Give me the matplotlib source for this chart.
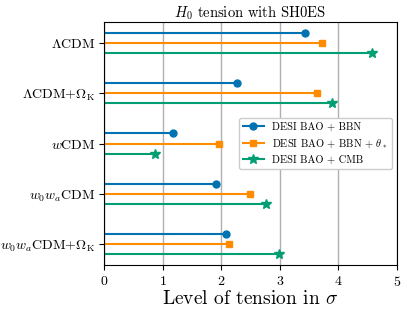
import numpy as np
import matplotlib
matplotlib.use("Agg")
import matplotlib.pyplot as plt

plt.rcParams["font.family"] = "serif"
plt.rcParams["font.serif"] = ["cmr10"]
plt.rcParams["mathtext.fontset"] = "cm"
plt.rcParams["axes.formatter.use_mathtext"] = True
plt.rcParams["axes.unicode_minus"] = False

models = [r"$\Lambda$CDM", r"$\Lambda$CDM+$\Omega_{\rm K}$", r"$w$CDM",
          r"$w_0w_a$CDM", r"$w_0w_a$CDM+$\Omega_{\rm K}$"]
bao_bbn = [3.43, 2.27, 1.18, 1.91, 2.08]
bao_bbn_theta = [3.72, 3.63, 1.96, 2.49, 2.13]
bao_cmb = [4.57, 3.89, 0.87, 2.76, 2.99]

series = [
    (bao_bbn, "DESI BAO + BBN", "#0173b2", "o", 5),
    (bao_bbn_theta, r"DESI BAO + BBN + $\theta_*$", "#ff8c00", "s", 5),
    (bao_cmb, "DESI BAO + CMB", "#029e73", "*", 7),
]

fig = plt.figure(figsize=(4.07, 3.11), dpi=100)
ax = fig.add_axes([0.256, 0.148, 0.719, 0.781])

ypos = np.arange(len(models))
offsets = [-0.2, 0.0, 0.2]
for (vals, label, color, marker, ms), off in zip(series, offsets):
    for i, v in enumerate(vals):
        ax.plot([0, v], [ypos[i] + off] * 2, color=color, lw=1.5,
                marker=marker, markevery=[1], ms=ms,
                label=label if i == 0 else None)

ax.set_yticks(ypos)
ax.set_yticklabels(models, fontsize=10)
ax.tick_params(axis="y", pad=2.5)
ax.set_ylim(4.42, -0.42)
ax.set_xlim(0, 5)
ax.set_xticks(range(6))
ax.tick_params(axis="x", labelsize=10)
ax.grid(True, axis="x", color="#b0b0b0", lw=1)
ax.set_axisbelow(True)
ax.axvline(0, color="gray", lw=1.5, zorder=1)
ax.set_xlabel(r"Level of tension in $\sigma$", fontsize=14, labelpad=1)
ax.set_title(r"$H_0$ tension with SH0ES", fontsize=10.5, pad=3)
ax.legend(loc="center right", fontsize=7.5, framealpha=1)

fig.savefig("out.png", dpi=100)
